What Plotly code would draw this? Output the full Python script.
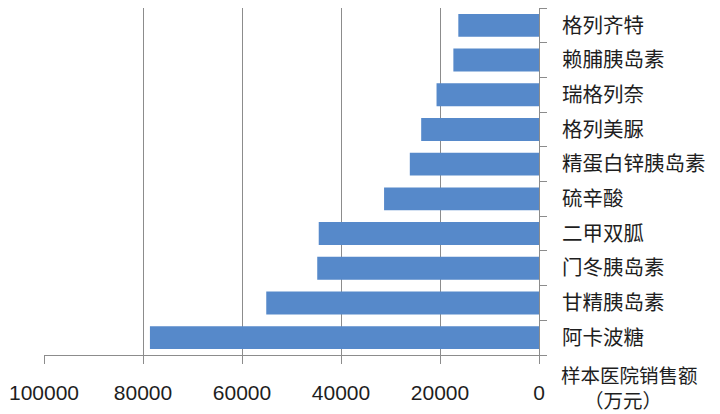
import plotly.graph_objects as go

categories = ["阿卡波糖", "甘精胰岛素", "门冬胰岛素", "二甲双胍", "硫辛酸",
              "精蛋白锌胰岛素", "格列美脲", "瑞格列奈", "赖脯胰岛素", "格列齐特"]
sales = [78600, 55100, 44800, 44500, 31300, 26100, 23800, 20700, 17300, 16300]
x_ticks = [0, 20000, 40000, 60000, 80000, 100000]
axis_title_lines = ["样本医院销售额", "（万元）"]

FONT = "Liberation Sans, Noto Sans CJK SC, sans-serif"
CJK = "Noto Sans CJK SC, sans-serif"

# page has an 8px body margin; figure sized to fit the 720x414 window
W, H = 712, 406
L, R, T, B = 36, 181, 0, 59
plot_w = W - L - R
plot_h = H - T - B

fig = go.Figure(go.Bar(
    x=sales, y=categories, orientation="h",
    marker=dict(color="#5689CA", line=dict(width=0)),
    width=0.66,
))

fig.update_layout(
    width=W, height=H,
    margin=dict(l=L, r=R, t=T, b=B, autoexpand=False),
    paper_bgcolor="white", plot_bgcolor="white",
    showlegend=False,
    font=dict(family=FONT, size=20, color="#1e1e1e"),
    xaxis=dict(
        range=[100000, 0], autorange=False,
        tickvals=x_ticks, ticktext=[str(v) for v in x_ticks],
        showgrid=True, gridcolor="#8c8c8c", gridwidth=1,
        showline=True, linecolor="#8c8c8c", linewidth=1,
        ticks="outside", ticklen=8, tickcolor="#8c8c8c",
        ticklabelstandoff=11,
        zeroline=False,
        tickfont=dict(family=FONT, size=21, color="#1e1e1e"),
    ),
    yaxis=dict(
        categoryorder="array", categoryarray=categories,
        side="right",
        showline=True, linecolor="#8c8c8c", linewidth=1,
        ticks="outside", ticklen=7, tickcolor="#8c8c8c",
        tickson="boundaries",
        ticklabelstandoff=18,
        showgrid=False, zeroline=False,
        tickfont=dict(family=CJK, size=20.5, color="#1e1e1e"),
    ),
    bargap=0.34,
)


def page_to_paper(px, py):
    fx, fy = px - 8, py - 8
    return (fx - L) / plot_w, (H - B - fy) / plot_h


for text, (px, py) in zip(axis_title_lines, [(629, 376), (623, 401)]):
    ax, ay = page_to_paper(px, py)
    fig.add_annotation(
        x=ax, y=ay, xref="paper", yref="paper",
        text=text, showarrow=False, xanchor="center", yanchor="middle",
        font=dict(family=FONT, size=19.5, color="#1e1e1e"),
    )

fig.write_html("out.html")
